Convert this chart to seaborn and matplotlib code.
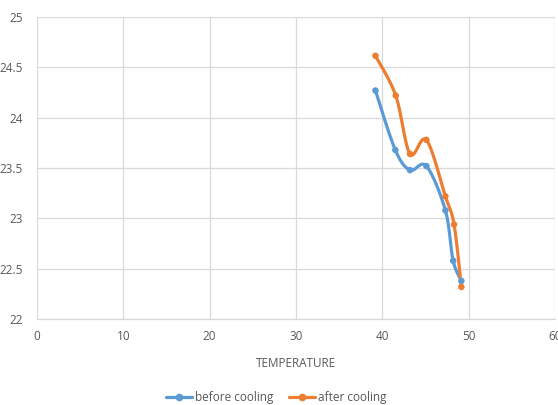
import numpy as np
import pandas as pd
import matplotlib
matplotlib.use("Agg")
import matplotlib.pyplot as plt
import seaborn as sns
from matplotlib.lines import Line2D

# ---- data ----
temp_before = [39.2, 41.5, 43.2, 45.1, 47.3, 48.2, 49.15]
before_cooling = [24.27, 23.68, 23.48, 23.52, 23.08, 22.58, 22.38]
temp_after = [39.2, 41.55, 43.2, 45.1, 47.3, 48.3, 49.15]
after_cooling = [24.615, 24.22, 23.64, 23.78, 23.22, 22.94, 22.32]
series_names = ["before cooling", "after cooling"]
x_ticks = [0, 10, 20, 30, 40, 50, 60]
y_ticks = [22, 22.5, 23, 23.5, 24, 24.5, 25]
x_label = "TEMPERATURE"

colors = ["#5B9BD5", "#ED7D31"]

sns.set_theme(style="white")
plt.rcParams['font.family'] = ['Open Sans', 'DejaVu Sans']

fig = plt.figure(figsize=(5.58, 4.05), dpi=100)
ax = fig.add_axes([0.0663, 0.212, 0.9284, 0.746])


def smooth(x, y, n=20):
    # Excel-like smoothed line (Catmull-Rom Bezier) used only for drawing the line
    x = np.asarray(x, float); y = np.asarray(y, float)
    P = np.column_stack([x, y])
    out = [P[0]]
    t = np.linspace(0, 1, n)[1:]
    for i in range(len(P) - 1):
        p0 = P[i - 1] if i > 0 else P[i]
        p1 = P[i]; p2 = P[i + 1]
        p3 = P[i + 2] if i + 2 < len(P) else P[i + 1]
        c1 = p1 + (p2 - p0) / 6.0
        c2 = p2 - (p3 - p1) / 6.0
        for tt in t:
            b = ((1 - tt) ** 3) * p1 + 3 * ((1 - tt) ** 2) * tt * c1 + 3 * (1 - tt) * tt ** 2 * c2 + tt ** 3 * p2
            out.append(b)
    out = np.array(out)
    return out[:, 0], out[:, 1]


df = pd.concat([
    pd.DataFrame({"x": temp_before, "y": before_cooling, "series": series_names[0]}),
    pd.DataFrame({"x": temp_after, "y": after_cooling, "series": series_names[1]}),
])

for name, xs, ys, c in [(series_names[0], temp_before, before_cooling, colors[0]),
                         (series_names[1], temp_after, after_cooling, colors[1])]:
    sx, sy = smooth(xs, ys)
    ax.plot(sx, sy, color=c, lw=2.3, solid_capstyle="round", zorder=3)

sns.scatterplot(data=df, x="x", y="y", hue="series", palette=colors, s=22,
                edgecolor=None, linewidth=0, ax=ax, legend=False, zorder=4)

ax.set_xlim(0, 60)
ax.set_ylim(22, 25)
ax.set_xticks(x_ticks)
ax.set_yticks(y_ticks)
ax.set_xticklabels([str(v) for v in x_ticks])
ax.set_yticklabels([f"{v:g}" for v in y_ticks])
ax.grid(True, color="#D9D9D9", lw=0.9)
ax.set_axisbelow(True)
for s in ["top", "right", "left"]:
    ax.spines[s].set_visible(False)
ax.spines["bottom"].set_color("#D9D9D9")
ax.spines["bottom"].set_linewidth(0.9)
ax.tick_params(axis="both", length=0, labelsize=8.5, labelcolor="#595959")
ax.tick_params(axis="x", pad=8)
ax.tick_params(axis="y", pad=10)
ax.set_xlabel(x_label, fontsize=8.5, color="#595959", labelpad=10)
ax.set_ylabel("")

handles = [Line2D([0], [0], color=colors[i], lw=2.3, marker="o", markersize=4.5)
           for i in range(2)]
fig.legend(handles, series_names, loc="center", bbox_to_anchor=(0.495, 0.018),
           ncol=2, frameon=False, fontsize=8.5, labelcolor="#595959",
           handlelength=2.2, handletextpad=0.2, columnspacing=1.4)

fig.savefig("out.png", dpi=100)
